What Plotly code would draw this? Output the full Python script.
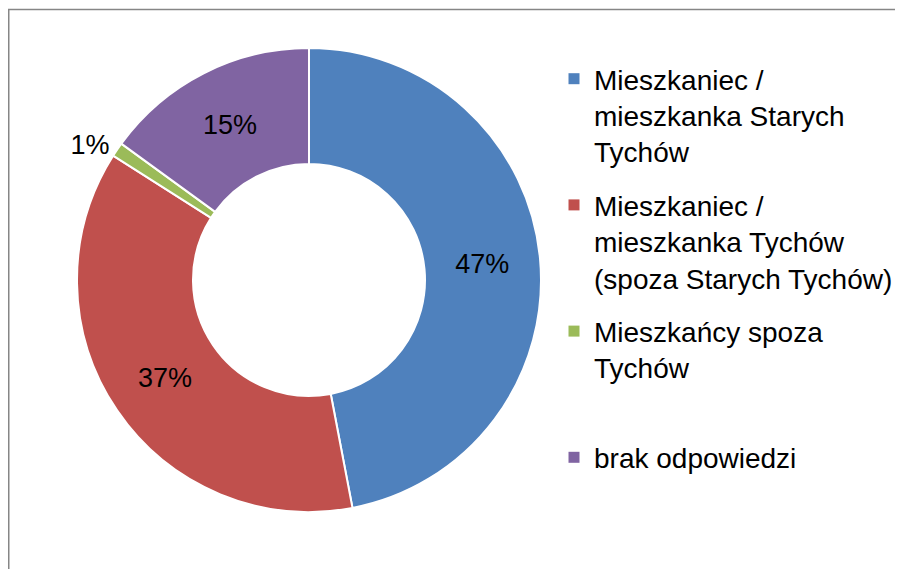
import plotly.graph_objects as go

labels = [
    "Mieszkaniec /<br>mieszkanka Starych<br>Tychów",
    "Mieszkaniec /<br>mieszkanka Tychów<br>(spoza Starych Tychów)",
    "Mieszkańcy spoza<br>Tychów<br> ",
    "brak odpowiedzi",
]
values = [47, 37, 1, 15]
colors = ["#4F81BD", "#C0504D", "#9BBB59", "#8064A2"]
text_positions = ["inside", "inside", "outside", "inside"]

# page is rendered with an 8px body margin, so figure is sized to fit
W, H = 895, 561
FONT = "Liberation Sans, Arial, sans-serif"

fig = go.Figure()
fig.add_trace(
    go.Pie(
        labels=labels,
        values=values,
        hole=0.5,
        sort=False,
        direction="clockwise",
        rotation=0,
        marker=dict(colors=colors, line=dict(color="white", width=2)),
        texttemplate="%{value}%",
        textposition=text_positions,
        insidetextorientation="horizontal",
        textfont=dict(family=FONT, size=27, color="black"),
        domain=dict(x=[69 / W, 533 / W], y=[1 - 504 / H, 1 - 40 / H]),
        showlegend=False,
    )
)

# legend entries (one per slice)
for i, (lab, col) in enumerate(zip(labels, colors)):
    fig.add_trace(
        go.Scatter(
            x=[None],
            y=[None],
            mode="markers",
            name=lab,
            legendgroup=f"g{i}",
            marker=dict(symbol="square", size=11, color=col),
            showlegend=True,
        )
    )

fig.update_layout(
    width=W,
    height=H,
    margin=dict(l=0, r=0, t=0, b=0),
    paper_bgcolor="white",
    plot_bgcolor="white",
    font=dict(family=FONT, color="black"),
    xaxis=dict(visible=False),
    yaxis=dict(visible=False),
    showlegend=True,
    legend=dict(
        x=546 / W,
        xanchor="left",
        y=1 - 46 / H,
        yanchor="top",
        valign="top",
        tracegroupgap=14,
        font=dict(family=FONT, size=28, color="black"),
        bgcolor="rgba(0,0,0,0)",
        borderwidth=0,
    ),
    shapes=[
        dict(
            type="rect",
            xref="paper",
            yref="paper",
            x0=0.75 / W,
            x1=1.02,
            y0=-0.02,
            y1=1 - 1.5 / H,
            line=dict(color="#868686", width=1.5),
            fillcolor="rgba(0,0,0,0)",
        )
    ],
)

fig.write_html("out.html")
